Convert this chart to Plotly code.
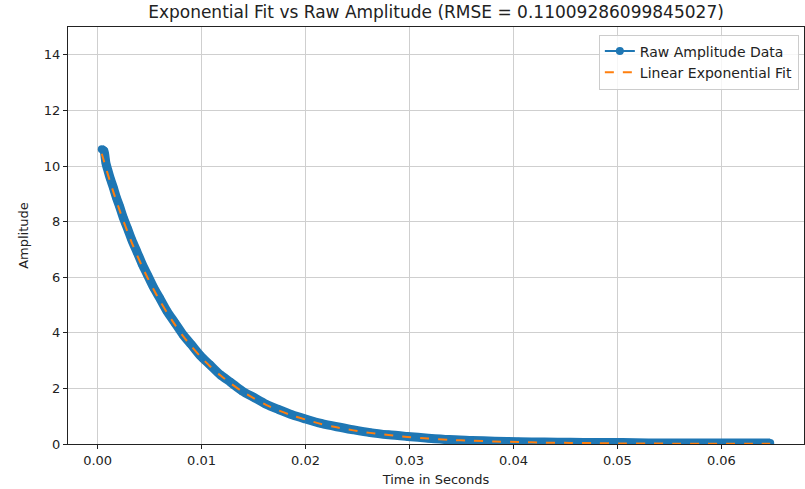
import plotly.graph_objects as go

# Time in seconds
time_s = [0.0004, 0.0006, 0.0008, 0.0010, 0.0012, 0.0015, 0.0018, 0.0021, 0.0025, 0.0029,
          0.0033, 0.0038, 0.0043, 0.0048, 0.0054, 0.0060, 0.0067, 0.0074, 0.0082, 0.0090,
          0.0099, 0.0108, 0.0118, 0.0128, 0.0139, 0.0150, 0.0162, 0.0174, 0.0187, 0.0200,
          0.0215, 0.0230, 0.0246, 0.0262, 0.0280, 0.0298, 0.0318, 0.0338, 0.0360, 0.0382,
          0.0405, 0.0430, 0.0455, 0.0480, 0.0505, 0.0530, 0.0555, 0.0580, 0.0605, 0.0630,
          0.0647]

raw_amplitude = [10.60, 10.55, 10.10, 9.83, 9.57, 9.24, 8.87, 8.56, 8.11, 7.73,
                 7.33, 6.90, 6.46, 6.08, 5.62, 5.23, 4.76, 4.38, 3.94, 3.58,
                 3.17, 2.85, 2.49, 2.22, 1.91, 1.68, 1.43, 1.24, 1.05, 0.90,
                 0.74, 0.62, 0.51, 0.41, 0.33, 0.27, 0.21, 0.16, 0.13, 0.10,
                 0.08, 0.07, 0.06, 0.05, 0.05, 0.04, 0.04, 0.04, 0.04, 0.04,
                 0.04]

fit_amplitude = [10.44, 10.19, 9.93, 9.68, 9.44, 9.08, 8.75, 8.42, 8.00, 7.61,
                 7.23, 6.79, 6.37, 5.98, 5.55, 5.14, 4.71, 4.31, 3.89, 3.52,
                 3.14, 2.80, 2.47, 2.18, 1.89, 1.65, 1.41, 1.21, 1.03, 0.88,
                 0.72, 0.60, 0.49, 0.40, 0.32, 0.25, 0.20, 0.15, 0.12, 0.09,
                 0.07, 0.05, 0.04, 0.03, 0.02, 0.02, 0.01, 0.01, 0.01, 0.01,
                 0.01]

rmse_text = "0.11009286099845027"
y_ticks = [0, 2, 4, 6, 8, 10, 12, 14]

BLUE = "#1f77b4"
ORANGE = "#ff7f0e"
FONT = "DejaVu Sans"

fig = go.Figure()
# thick band underneath (matplotlib markers blend into a thick band)
fig.add_trace(go.Scatter(x=time_s, y=raw_amplitude, mode="lines",
                         line=dict(color=BLUE, width=9, shape="spline", smoothing=0.8),
                         showlegend=False, hoverinfo="skip"))
fig.add_trace(go.Scatter(x=time_s, y=raw_amplitude, mode="lines+markers",
                         name="Raw Amplitude Data",
                         line=dict(color=BLUE, width=2, shape="spline", smoothing=0.8),
                         marker=dict(color=BLUE, size=8)))
fig.add_trace(go.Scatter(x=time_s, y=fit_amplitude, mode="lines",
                         name="Linear Exponential Fit",
                         line=dict(color=ORANGE, width=2, dash="dash",
                                   shape="spline", smoothing=0.8)))

axis_common = dict(showgrid=True, gridcolor="#cfcfcf", gridwidth=1,
                   showline=True, linecolor="#222", linewidth=1, mirror=True,
                   ticks="outside", ticklen=4, tickcolor="#222",
                   zeroline=False, tickfont=dict(family=FONT, size=13, color="#222"))

fig.update_layout(
    width=805, height=489,
    margin=dict(l=68, r=1, t=27, b=45),
    paper_bgcolor="white", plot_bgcolor="white",
    font=dict(family=FONT, size=13, color="#222"),
    title=dict(text=f"Exponential Fit vs Raw Amplitude (RMSE = {rmse_text})",
               x=(68 + 804) / 2 / 805, xanchor="center", y=0.988, yanchor="top",
               font=dict(family=FONT, size=17, color="#222")),
    xaxis=dict(range=[-0.00285, 0.06795], tickmode="linear", tick0=0, dtick=0.01,
               tickformat=".2f",
               title=dict(text="Time in Seconds", font=dict(family=FONT, size=13), standoff=8),
               **axis_common),
    yaxis=dict(range=[0, 15], tickvals=y_ticks,
               title=dict(text="Amplitude", font=dict(family=FONT, size=13), standoff=12),
               **axis_common),
    legend=dict(x=0.993, y=0.982, xanchor="right", yanchor="top",
                bgcolor="rgba(255,255,255,0.8)", bordercolor="#ccc", borderwidth=1,
                font=dict(family=FONT, size=14, color="#222"),
                tracegroupgap=0, itemwidth=30),
)

fig.write_html("out.html")
